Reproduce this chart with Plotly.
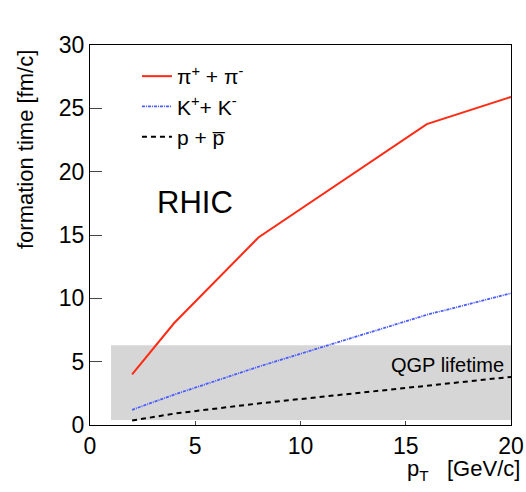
import plotly.graph_objects as go

pt = [2, 4, 8, 16, 20]
pion = [4.0, 8.05, 14.8, 23.75, 25.9]
kaon = [1.2, 2.4, 4.6, 8.7, 10.4]
proton = [0.35, 0.9, 1.7, 3.1, 3.8]
qgp_x = [1, 20]
qgp_y = [0.4, 6.3]

FONT = "Liberation Sans, Arial, sans-serif"

L, R, T, B = 90, 15, 45, 67
W, H = 526, 492
pw, ph = W - L - R, H - T - B

def px(x):
    return (x - L) / pw

def py(y):
    return 1 - (y - T) / ph

fig = go.Figure()
fig.add_shape(type="rect", xref="x", yref="y", x0=qgp_x[0], x1=qgp_x[1],
              y0=qgp_y[0], y1=qgp_y[1], fillcolor="#d6d6d6", line_width=0, layer="below")
fig.add_trace(go.Scatter(x=pt, y=pion, mode="lines", line=dict(color="#ff2a14", width=2),
                         name="π<sup>+</sup> + π<sup>-</sup>"))
fig.add_trace(go.Scatter(x=pt, y=kaon, mode="lines", line=dict(color="#4a5cff", width=1.8, dash="3px,1px,1px,1px"),
                         name="K<sup>+</sup>+ K<sup>-</sup>"))
fig.add_trace(go.Scatter(x=pt, y=proton, mode="lines", line=dict(color="black", width=2, dash="5px,4px"),
                         name="p + p\u0305"))

fig.add_annotation(x=px(155), y=py(202), xref="paper", yref="paper", text="RHIC", showarrow=False,
                   font=dict(family=FONT, size=31, color="black"), xanchor="left", yanchor="middle")
fig.add_annotation(x=px(506), y=py(365), xref="paper", yref="paper", text="QGP lifetime", showarrow=False,
                   font=dict(family=FONT, size=20, color="black"), xanchor="right", yanchor="middle")
fig.add_annotation(x=px(522), y=py(470), xref="paper", yref="paper", text="p<sub>T</sub>   [GeV/c]",
                   showarrow=False, font=dict(family=FONT, size=22, color="black"),
                   xanchor="right", yanchor="middle")
fig.add_annotation(x=px(25), y=py(150), xref="paper", yref="paper", text="formation time [fm/c]",
                   showarrow=False, textangle=-90, font=dict(family=FONT, size=22, color="black"),
                   xanchor="center", yanchor="middle")

fig.update_layout(
    width=W, height=H, margin=dict(l=L, r=R, t=T, b=B, autoexpand=False),
    paper_bgcolor="white", plot_bgcolor="white",
    font=dict(family=FONT, size=23, color="black"),
    showlegend=True,
    legend=dict(x=px(142) - 0.012, y=py(56), xanchor="left", yanchor="top",
                bgcolor="rgba(0,0,0,0)", font=dict(size=21), tracegroupgap=0, itemwidth=30),
    xaxis=dict(range=[0, 20], tickvals=[0, 5, 10, 15, 20], ticks="inside", ticklen=4,
               showline=True, linecolor="black", linewidth=1, mirror=True, showgrid=False,
               zeroline=False, tickfont=dict(size=23), automargin=False),
    yaxis=dict(range=[0, 30], tickvals=[0, 5, 10, 15, 20, 25, 30], ticks="inside", ticklen=12,
               showline=True, linecolor="black", linewidth=1, mirror=True, showgrid=False,
               zeroline=False, tickfont=dict(size=23), automargin=False),
)
fig.write_html("out.html")
